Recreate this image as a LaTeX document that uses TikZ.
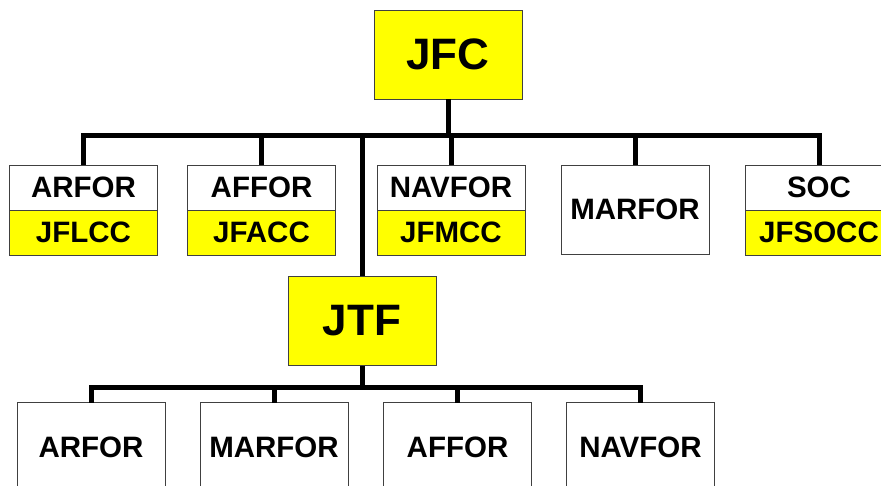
\documentclass[tikz,border=0pt]{standalone}
\usepackage{fontspec}
\setmainfont{Liberation Sans}
\usepackage{tikz}
\usetikzlibrary{positioning}
\definecolor{cmdyellow}{HTML}{FFFF00}
\definecolor{boxline}{HTML}{404040}

\begin{document}
\begin{tikzpicture}[
  x=1pt,y=-1pt,
  cmd/.style={rectangle,draw=boxline,line width=0.9pt,fill=cmdyellow,minimum width=148pt,minimum height=89pt,inner sep=0pt,outer sep=0pt,font=\fontsize{44}{48}\selectfont\bfseries},
  unit/.style={rectangle,draw=boxline,line width=0.9pt,fill=white,minimum width=148pt,minimum height=45pt,inner sep=0pt,outer sep=0pt,font=\fontsize{29.5}{32}\selectfont\bfseries},
  comp/.style={unit,fill=cmdyellow},
  solo/.style={unit,minimum height=89pt},
  bar/.style={line width=5pt}
]
\useasboundingbox (0,0) rectangle (881,486);

\node[cmd] (jfc) at (448,54.5) {JFC};
\coordinate (topbus) at (450,136);

\node[unit] (arfor) at (83.5,187.5) {ARFOR};
\node[comp,below=0pt of arfor] (jflcc) {JFLCC};
\node[unit] (affor) at (261.5,187.5) {AFFOR};
\node[comp,below=0pt of affor] (jfacc) {JFACC};
\node[unit] (navfor) at (451,187.5) {NAVFOR};
\node[comp,below=0pt of navfor] (jfmcc) {JFMCC};
\node[solo] (marfor) at (635,209.5) {MARFOR};
\node[unit] (soc) at (819,187.5) {SOC};
\node[comp,below=0pt of soc] (jfsocc) {JFSOCC};

\node[cmd] (jtf) at (362,321) {JTF};
\coordinate (lowbus) at (358,387);

\node[solo] (tfarfor) at (91,447) {ARFOR};
\node[solo] (tfmarfor) at (274,447) {MARFOR};
\node[solo] (tfaffor) at (457.5,447) {AFFOR};
\node[solo] (tfnavfor) at (640.5,447) {NAVFOR};

\draw[bar] (jfc.south) -- (jfc.south |- topbus);
\draw[bar] (arfor.north) |- (topbus);
\draw[bar] (affor.north) |- (topbus);
\draw[bar] (navfor.north) |- (topbus);
\draw[bar] (marfor.north) |- (topbus);
\draw[bar] (soc.north) |- (topbus);
\draw[bar] (jtf.north) -- (jtf.north |- topbus);

\draw[bar] (jtf.south) -- (jtf.south |- lowbus);
\draw[bar] (tfarfor.north) |- (lowbus);
\draw[bar] (tfmarfor.north) |- (lowbus);
\draw[bar] (tfaffor.north) |- (lowbus);
\draw[bar] (tfnavfor.north) |- (lowbus);
\end{tikzpicture}
\end{document}
